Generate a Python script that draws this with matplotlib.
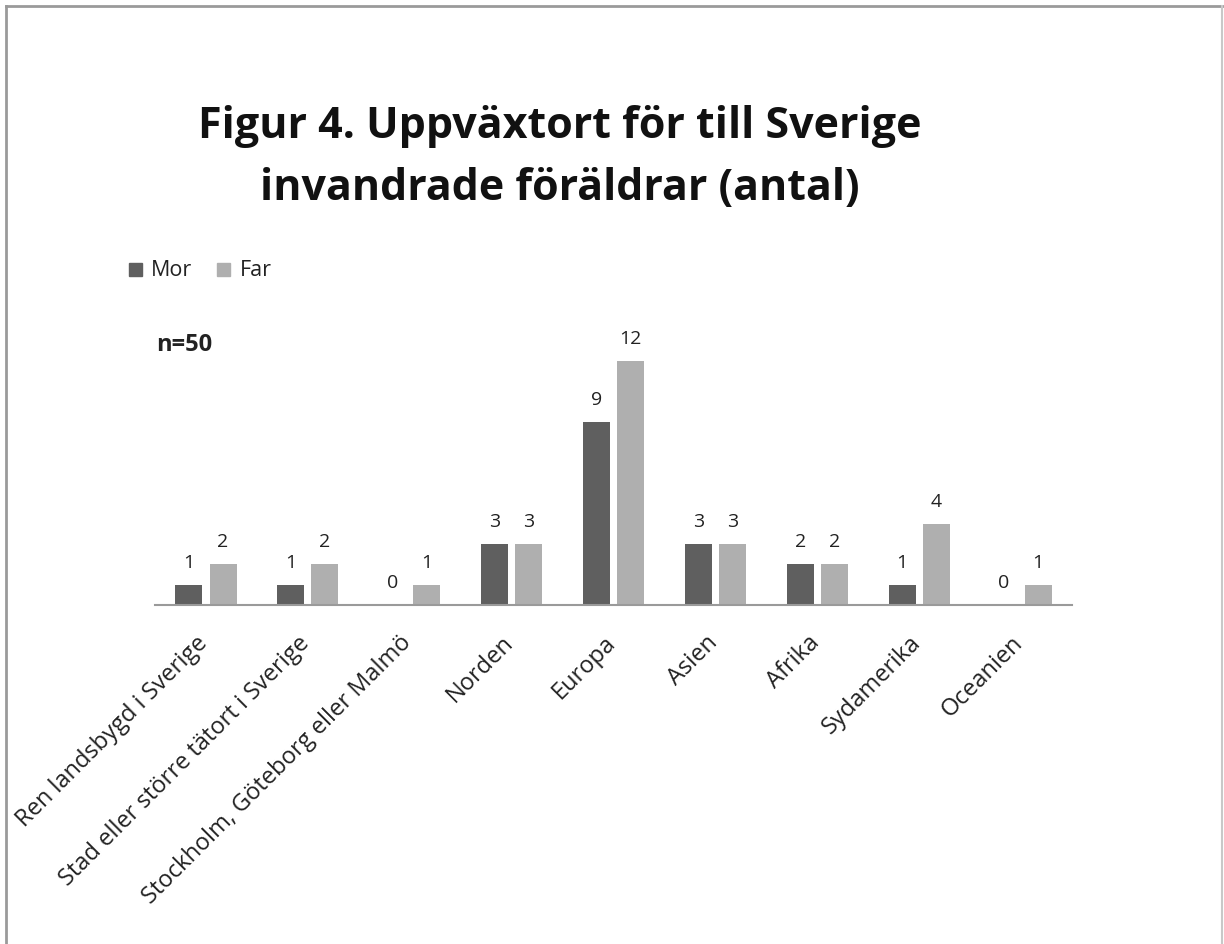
import matplotlib
matplotlib.use("Agg")
import matplotlib.pyplot as plt
import matplotlib.transforms as mtransforms
from matplotlib.patches import Rectangle
import numpy as np

categories = ["Ren landsbygd i Sverige", "Stad eller större tätort i Sverige",
              "Stockholm, Göteborg eller Malmö", "Norden", "Europa", "Asien",
              "Afrika", "Sydamerika", "Oceanien"]
mor = [1, 1, 0, 3, 9, 3, 2, 1, 0]
far = [2, 2, 1, 3, 12, 3, 2, 4, 1]
series_names = ["Mor", "Far"]
title_lines = ["Figur 4. Uppväxtort för till Sverige", "invandrade föräldrar (antal)"]
note = "n=50"

FONT = "Open Sans"
plt.rcParams['font.family'] = [FONT, 'DejaVu Sans']

W, H = 1224, 945
fig = plt.figure(figsize=(W / 100, H / 100), dpi=100)
fig.patch.set_facecolor("white")

# outer border (left, top, right)
fig.add_artist(plt.Line2D([6 / W, 6 / W], [0, 1 - 7 / H], color="#9a9a9a", lw=2, transform=fig.transFigure))
fig.add_artist(plt.Line2D([6 / W, 1222 / W], [1 - 7 / H, 1 - 7 / H], color="#9a9a9a", lw=2, transform=fig.transFigure))
fig.add_artist(plt.Line2D([1222 / W, 1222 / W], [0, 1 - 7 / H], color="#c8c8c8", lw=1.5, transform=fig.transFigure))

x0, x1 = 155, 1072
ybase = 606
ymax = 14
px_per_unit = 244 / 12
ytop = ybase - ymax * px_per_unit
ax = fig.add_axes([x0 / W, 1 - ybase / H, (x1 - x0) / W, (ybase - ytop) / H])
ax.set_xlim(-0.5, len(categories) - 0.5)
ax.set_ylim(0, ymax)

xs = np.arange(len(categories))
bw = 0.265
off = 0.168
dark = "#5f5f5f"
light = "#afafaf"
ax.bar(xs - off, mor, bw, color=dark, label=series_names[0])
ax.bar(xs + off, far, bw, color=light, label=series_names[1])
for i in range(len(categories)):
    ax.annotate(str(mor[i]), (xs[i] - off, mor[i]), xytext=(0, 14), textcoords="offset pixels",
                ha="center", va="bottom", fontsize=14, color="#222222")
    ax.annotate(str(far[i]), (xs[i] + off, far[i]), xytext=(0, 14), textcoords="offset pixels",
                ha="center", va="bottom", fontsize=14, color="#222222")

for s in ["top", "right", "left"]:
    ax.spines[s].set_visible(False)
ax.spines["bottom"].set_color("#9a9a9a")
ax.spines["bottom"].set_linewidth(1.5)
ax.set_yticks([])
ax.set_xticks(xs)
ax.set_xticklabels(categories, rotation=45, ha="right", rotation_mode="anchor", fontsize=17, color="#222222")
ax.tick_params(axis="x", length=0, pad=18)
shift = mtransforms.ScaledTranslation(-10 / 100, 0, fig.dpi_scale_trans)
for lbl in ax.get_xticklabels():
    lbl.set_transform(lbl.get_transform() + shift)
ax.patch.set_alpha(0)

fig.text(560 / W, 1 - 127 / H, title_lines[0], ha="center", va="center", fontsize=31, fontweight="bold",
         color="#111111")
fig.text(560 / W, 1 - 189 / H, title_lines[1], ha="center", va="center", fontsize=31, fontweight="bold",
         color="#111111")

# legend
fig.add_artist(Rectangle((129 / W, 1 - 277 / H), 13 / W, 13 / H, color=dark, transform=fig.transFigure))
fig.text(151 / W, 1 - 270 / H, series_names[0], ha="left", va="center", fontsize=15.5, color="#222222")
fig.add_artist(Rectangle((217 / W, 1 - 277 / H), 13 / W, 13 / H, color=light, transform=fig.transFigure))
fig.text(240 / W, 1 - 270 / H, series_names[1], ha="left", va="center", fontsize=15.5, color="#222222")

fig.text(156 / W, 1 - 345 / H, note, ha="left", va="center", fontsize=17, fontweight="bold", color="#222222")

fig.savefig("out.png", dpi=100)
